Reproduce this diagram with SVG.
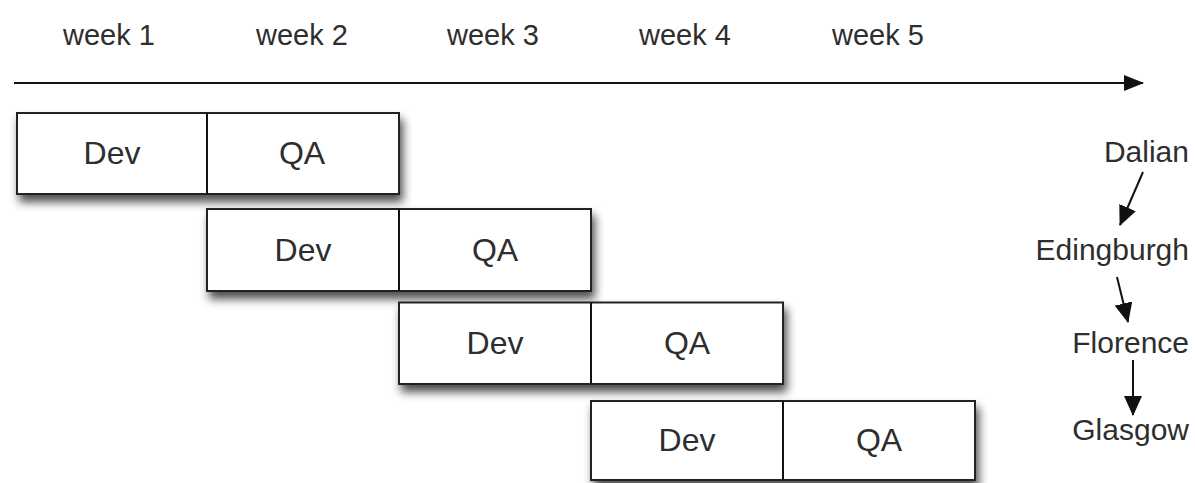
<svg xmlns="http://www.w3.org/2000/svg" width="1195" height="483" viewBox="0 0 1195 483">
<style>
.cell{fill:#fff;stroke:#222;stroke-width:2}
.t{font-family:"Liberation Sans",Arial,sans-serif;fill:#2e2e2e}
.wk{font-size:29px;text-anchor:middle}
.lb{font-size:32px;text-anchor:middle}
.city{font-size:30px;text-anchor:end}
.ln{stroke:#111;stroke-width:2;fill:none}
</style>
<defs>
<filter id="sh" x="-10%" y="-30%" width="125%" height="180%">
<feDropShadow dx="3" dy="7" stdDeviation="5" flood-color="#000" flood-opacity="0.7"/>
</filter>
<marker id="ah" viewBox="0 0 20 16" refX="19" refY="8" markerWidth="20" markerHeight="16" markerUnits="userSpaceOnUse" orient="auto">
<path d="M0,0 L20,8 L0,16 Z" fill="#111"/>
</marker>
<marker id="ah2" viewBox="0 0 20 18" refX="19" refY="9" markerWidth="20" markerHeight="18" markerUnits="userSpaceOnUse" orient="auto">
<path d="M0,0 L20,9 L0,18 Z" fill="#111"/>
</marker>
</defs>
<rect width="1195" height="483" fill="#fff"/>
<g id="weeks">
<text class="t wk" x="109" y="45">week 1</text>
<text class="t wk" x="302" y="45">week 2</text>
<text class="t wk" x="493" y="45">week 3</text>
<text class="t wk" x="685" y="45">week 4</text>
<text class="t wk" x="878" y="45">week 5</text>
</g>
<g id="row1">
<g filter="url(#sh)">
<rect class="cell" x="17" y="113" width="382" height="81"/>
</g>
<line class="ln" x1="207" y1="113" x2="207" y2="194" stroke="#222"/>
<text class="t lb" x="112" y="164">Dev</text>
<text class="t lb" x="302" y="164">QA</text>
</g>
<g id="row2">
<g filter="url(#sh)">
<rect class="cell" x="207" y="209" width="384" height="82"/>
</g>
<line class="ln" x1="399" y1="209" x2="399" y2="291"/>
<text class="t lb" x="303" y="261">Dev</text>
<text class="t lb" x="495" y="261">QA</text>
</g>
<g id="row3">
<g filter="url(#sh)">
<rect class="cell" x="399" y="302.5" width="384" height="81.5"/>
</g>
<line class="ln" x1="591" y1="302.5" x2="591" y2="384"/>
<text class="t lb" x="495" y="354">Dev</text>
<text class="t lb" x="687" y="354">QA</text>
</g>
<g id="row4">
<g filter="url(#sh)">
<rect class="cell" x="591" y="401" width="384" height="79"/>
</g>
<line class="ln" x1="783" y1="401" x2="783" y2="480"/>
<text class="t lb" x="687" y="451">Dev</text>
<text class="t lb" x="879" y="451">QA</text>
</g>
<g id="cities">
<text class="t city" x="1189" y="162">Dalian</text>
<text class="t city" x="1189" y="260">Edingburgh</text>
<text class="t city" x="1189" y="353">Florence</text>
<text class="t city" x="1189" y="440">Glasgow</text>
</g>
<g id="connectors">
<line class="ln" x1="14" y1="83" x2="1143" y2="83" marker-end="url(#ah)"/>
<line class="ln" x1="1143" y1="172" x2="1120" y2="225" marker-end="url(#ah2)"/>
<line class="ln" x1="1117" y1="277" x2="1128" y2="322" marker-end="url(#ah2)"/>
<line class="ln" x1="1133" y1="360" x2="1133" y2="415" marker-end="url(#ah2)"/>
</g>
</svg>
